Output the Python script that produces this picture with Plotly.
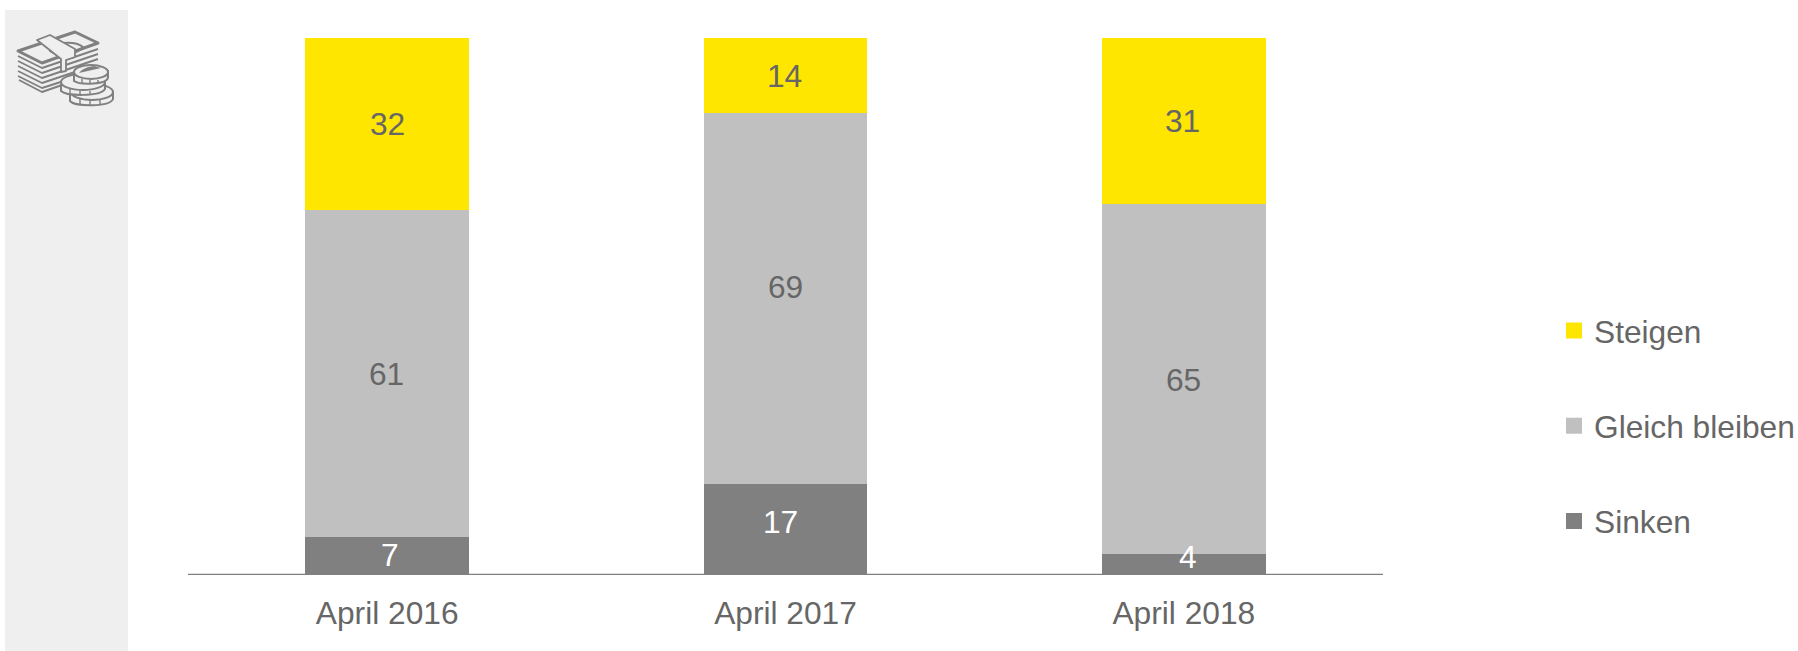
import base64
import plotly.graph_objects as go

W, H = 1798, 651

categories = ["April 2016", "April 2017", "April 2018"]
sinken = [7, 17, 4]
gleich = [61, 69, 65]
steigen = [32, 14, 31]

series_names = ["Sinken", "Gleich bleiben", "Steigen"]
series_colors = ["#808080", "#C0C0C0", "#FFE600"]
label_colors = ["#FFFFFF", "#666666", "#666666"]

# small per-label nudges in pixels (x, y) so the figures sit where they should
label_nudge = [
    [(3, 1), (-5, 7), (4, 7)],
    [(-1, 0), (0, 11), (0, -1)],
    [(0, 0), (-1, 0), (-1, 0)],
]

FONT = "Liberation Sans, Arial, sans-serif"
TEXT = "#666666"
FONT_SIZE = 31.7

# icon: a banded stack of notes with three coins
icon_svg = """<svg xmlns='http://www.w3.org/2000/svg' width='110' height='85' viewBox='0 0 110 85'>
<g fill='none' stroke='#808080' stroke-linejoin='round'>
<path d='M8 26 L65 7 L88 18 L32 38 Z' stroke-width='3'/>
<path d='M8 31 L32 43 L88 24 M8 36 L32 48 L88 29 M8 41 L32 53 L88 34 M8 46 L32 58 L68 46 M8 51 L32 63 L60 54 M9 55 L32 67 L52 60' stroke-width='1.9'/>
<path d='M40 26 C40 17 64 15 73 22 C68 29 50 33 40 26 Z' stroke-width='2'/>
</g>
<path d='M27 15 L40 10 L65 24 L65 32 L56 35 L56 46 L51 47 L51 34 Z' fill='#efefef' stroke='#808080' stroke-width='1.8' stroke-linejoin='round'/>
<g stroke='#808080' stroke-width='2' fill='#efefef'>
<path d='M60 69 L60 76 C65 82 100 82 103 74 L103 67 Z'/>
<ellipse cx='82' cy='67' rx='21' ry='8'/>
<path d='M51 60 L51 66 C56 71 90 72 95 64 L95 57 Z'/>
<ellipse cx='73' cy='57' rx='22' ry='8'/>
<path d='M64 49 L64 56 C70 60 98 60 98 52 L98 46 Z'/>
<ellipse cx='81' cy='47' rx='17' ry='7'/>
<path d='M69 48 L91 43 L84 41 C76 42 71 45 69 48 Z' fill='#808080' stroke='none'/>
<path d='M72 54 V58 M80 55 V59 M88 55 V58 M60 64 V69 M70 66 V70 M80 66 V70 M70 74 V79 M80 75 V80 M90 74 V79' stroke-width='1.4'/>
</g>
</svg>"""
icon_uri = "data:image/svg+xml;base64," + base64.b64encode(icon_svg.encode()).decode()

# plot area in page pixels
LEFT, RIGHT, TOP, BOTTOM = 188, 1383, 38, 575

fig = go.Figure()

stacks = [sinken, gleich, steigen]
for name, color, values in zip(series_names, series_colors, stacks):
    fig.add_bar(
        x=categories, y=values, name=name, marker_color=color,
        marker_line_width=0, width=0.411, showlegend=False,
    )

# legend entries are carried by empty marker traces so the keys can be square and 17px
for name, color, group in zip(series_names[::-1], series_colors[::-1], "abc"):
    fig.add_scatter(
        x=[None], y=[None], mode="markers", name=name, legendgroup=group,
        marker=dict(symbol="square", size=18, color=color, line_width=0),
    )

annotations = []
base = [0, 0, 0]
for values, color, nudges in zip(stacks, label_colors, label_nudge):
    for i, v in enumerate(values):
        annotations.append(dict(
            x=categories[i], y=base[i] + v / 2, text=str(v), showarrow=False,
            xref="x", yref="y", xshift=nudges[i][0], yshift=nudges[i][1],
            font=dict(family=FONT, size=FONT_SIZE, color=color),
        ))
        base[i] += v

fig.update_layout(
    width=W, height=H,
    margin=dict(l=LEFT, r=W - RIGHT, t=TOP, b=H - BOTTOM, autoexpand=False),
    paper_bgcolor="white", plot_bgcolor="white",
    barmode="stack",
    font=dict(family=FONT, size=FONT_SIZE, color=TEXT),
    annotations=annotations,
    legend=dict(
        x=(1554 - LEFT) / (RIGHT - LEFT), xanchor="left",
        y=1 - 426 / H, yanchor="middle", yref="container",
        tracegroupgap=51, itemsizing="trace", bgcolor="rgba(0,0,0,0)",
        font=dict(family=FONT, size=FONT_SIZE, color=TEXT),
    ),
    showlegend=True,
    xaxis=dict(
        type="category", categoryorder="array", categoryarray=categories,
        range=[-0.5, 2.5], showgrid=False, zeroline=False,
        showline=False, ticks="outside", ticklen=10, tickcolor="rgba(0,0,0,0)",
        tickfont=dict(family=FONT, size=FONT_SIZE, color=TEXT),
    ),
    yaxis=dict(range=[0, 100], visible=False, showgrid=False, zeroline=False),
    shapes=[
        # grey side panel
        dict(type="rect", xref="paper", yref="paper", layer="below",
             x0=(5 - LEFT) / (RIGHT - LEFT), x1=(128 - LEFT) / (RIGHT - LEFT),
             y0=(BOTTOM - 651) / (BOTTOM - TOP), y1=(BOTTOM - 10) / (BOTTOM - TOP),
             fillcolor="#EFEFEF", line_width=0),
        # baseline
        dict(type="line", xref="paper", yref="y", x0=0, x1=1, y0=0, y1=0,
             layer="above", line=dict(color="#808080", width=2.4)),
    ],
    images=[dict(
        source=icon_uri, xref="paper", yref="paper", layer="above",
        x=(10 - LEFT) / (RIGHT - LEFT), y=(BOTTOM - 25) / (BOTTOM - TOP),
        sizex=110 / (RIGHT - LEFT), sizey=85 / (BOTTOM - TOP),
        xanchor="left", yanchor="top", sizing="stretch",
    )],
)

fig.write_html("out.html", config={"displayModeBar": False})
